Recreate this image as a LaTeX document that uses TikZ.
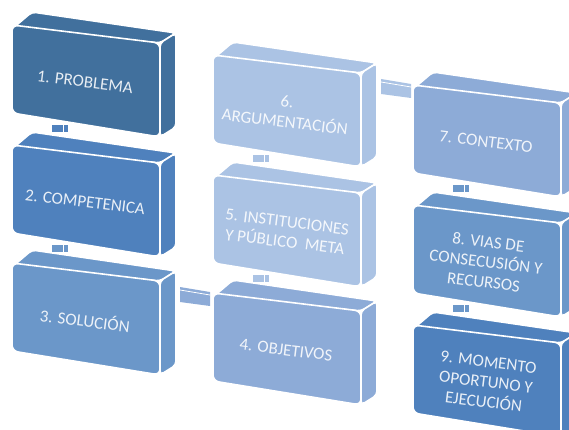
\documentclass[tikz,border=0pt]{standalone}
\usepackage{fontspec}
\setmainfont{Carlito}
\definecolor{azuluno}{RGB}{65,112,157}
\definecolor{azuldos}{RGB}{79,129,189}
\definecolor{azultres}{RGB}{107,151,201}
\definecolor{azulcuatro}{RGB}{141,171,215}
\definecolor{azulcinco}{RGB}{171,195,228}
\tikzset{texto/.style={text=white, text opacity=0.88, align=center, font=\fontsize{17}{20}\selectfont, rotate=-7},
  cara/.style={fill=#1, draw=white, line width=1.6pt}}

% caja 3D: nombre, x, y (esquina sup. izq. de la cara frontal), color, texto
\newcommand{\caja}[5]{%
  \begin{scope}[shift={(#2,#3)}]
    \draw[cara=#4, rounded corners=4pt] (0,4) -- (20,-13) -- (164,8) -- (148,18) -- cycle;
    \draw[cara=#4, rounded corners=4pt] (148,18) -- (164,8) -- (164,102) -- (148,112) -- cycle;
    \draw[cara=#4, rounded corners=6pt] (0,0) -- (148,18) -- (148,112) -- (0,88) -- cycle;
    \node[texto] (#1) at (73,57) {#5};
  \end{scope}}
% enlace vertical entre cajas
\newcommand{\enlace}[3]{%
  \fill[#3] (#1,#2) rectangle ++(16,7);
  \draw[white, line width=0.8pt] (#1+11,#2) -- ++(0,7);}

\begin{document}
\begin{tikzpicture}[x=1pt,y=-1pt]
  \useasboundingbox (0,0) rectangle (569,430);
  \clip (0,0) rectangle (569,430);

  % barras horizontales
  \fill[azulcuatro] (180,287) -- (210,292) -- (210,306) -- (180,302) -- cycle;
  \draw[white, line width=0.8pt] (180,290) -- (210,295);
  \fill[azulcinco] (381,79) -- (411,84) -- (411,98) -- (381,94) -- cycle;
  \draw[white, line width=0.8pt] (381,82) -- (411,87);

  % enlaces verticales
  \enlace{52}{125}{azuldos}
  \enlace{52}{245}{azultres}
  \enlace{253}{155}{azulcinco}
  \enlace{253}{275}{azulcinco}
  \enlace{453}{185}{azultres}
  \enlace{453}{305}{azultres}

  % columna 1
  \caja{b1}{12}{25}{azuluno}{1. PROBLEMA}
  \caja{b2}{12}{145}{azuldos}{2. COMPETENICA}
  \caja{b3}{12}{263}{azultres}{3. SOLUCIÓN}
  % columna 2
  \caja{b6}{213}{55}{azulcinco}{6.\\ARGUMENTACIÓN}
  \caja{b5}{213}{175}{azulcinco}{5. INSTITUCIONES\\Y PÚBLICO~ META}
  \caja{b4}{213}{293}{azulcuatro}{4. OBJETIVOS}
  % columna 3
  \caja{b7}{413}{85}{azulcuatro}{7. CONTEXTO}
  \caja{b8}{413}{205}{azultres}{8. VIAS DE\\CONSECUSIÓN Y\\RECURSOS}
  \caja{b9}{413}{325}{azuldos}{9. MOMENTO\\OPORTUNO Y\\EJECUCIÓN}
\end{tikzpicture}
\end{document}
